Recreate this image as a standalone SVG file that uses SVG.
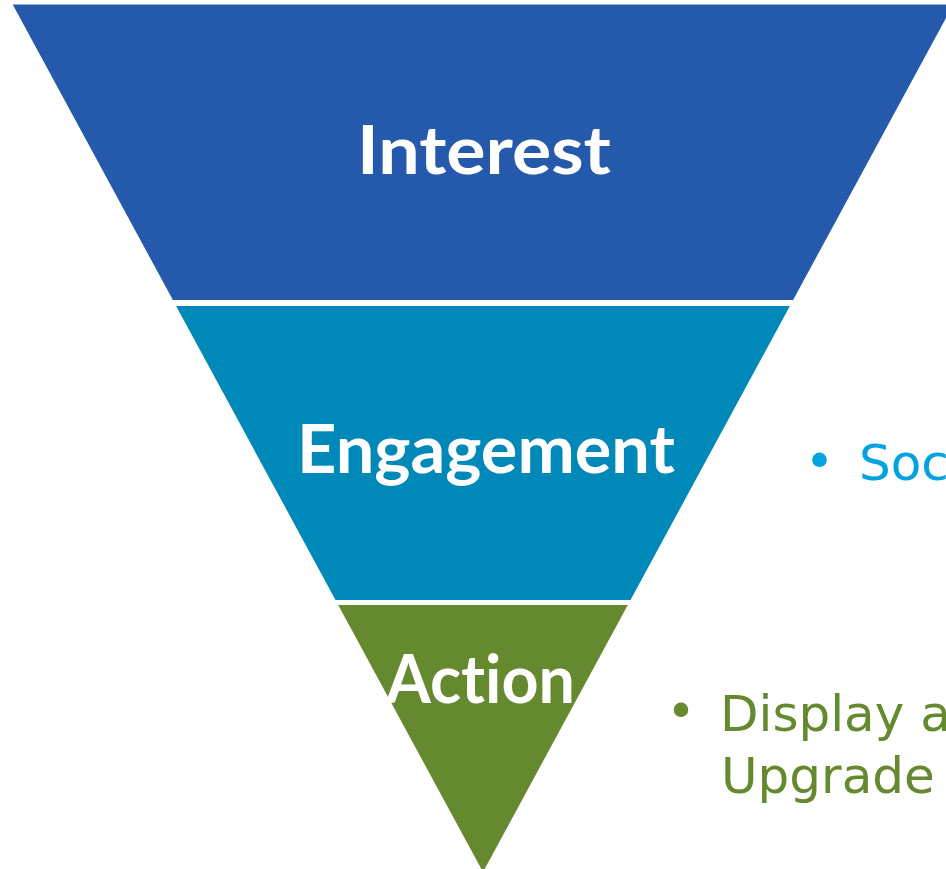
<svg xmlns="http://www.w3.org/2000/svg" width="946" height="869" viewBox="0 0 946 869">
<style>
.lbl{font-family:Lato,"Open Sans","Liberation Sans",sans-serif;font-weight:700;font-size:67px;fill:#ffffff;font-variant-ligatures:none;font-feature-settings:"liga" 0}
.bul{font-family:"DejaVu Sans","Liberation Sans",sans-serif;font-size:50px}
.blue{fill:#00A3E0}
.green{fill:#65892F}
</style>
<rect width="946" height="869" fill="#ffffff"/>
<g id="interest">
<polygon points="12.7,4.5 953.3,4.5 793.1,300 172.9,300" fill="#2559AB"/>
<text class="lbl" x="357" y="174" textLength="254" lengthAdjust="spacingAndGlyphs">Interest</text>
</g>
<g id="engagement">
<polygon points="176.1,306 789.9,306 630.5,600 335.5,600" fill="#0088B9"/>
<text class="lbl" x="297" y="473" textLength="378" lengthAdjust="spacingAndGlyphs">Engagement</text>
</g>
<g id="action">
<polygon points="338.2,605 627.8,605 483,872" fill="#65892F"/>
<text class="lbl" x="386" y="703" textLength="189" lengthAdjust="spacingAndGlyphs">Action</text>
</g>
<g id="engagement-note">
<text class="bul blue" x="819.5" y="478" text-anchor="middle">•</text>
<text class="bul blue" x="859" y="479.5">Soc</text>
</g>
<g id="action-note">
<text class="bul green" x="681" y="728" text-anchor="middle">•</text>
<text class="bul green" x="720" y="731">Display a</text>
<text class="bul green" x="721" y="793">Upgrade</text>
</g>
<g id="connectors"></g>
</svg>
